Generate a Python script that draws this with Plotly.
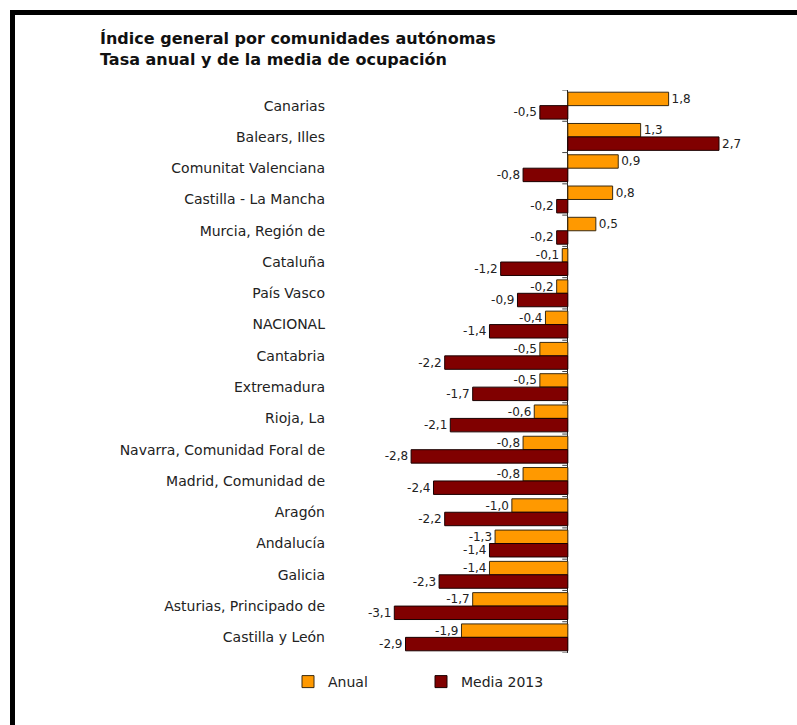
import plotly.graph_objects as go

categories = ["Canarias", "Balears, Illes", "Comunitat Valenciana", "Castilla - La Mancha",
              "Murcia, Región de", "Cataluña", "País Vasco", "NACIONAL", "Cantabria",
              "Extremadura", "Rioja, La", "Navarra, Comunidad Foral de", "Madrid, Comunidad de",
              "Aragón", "Andalucía", "Galicia", "Asturias, Principado de", "Castilla y León"]
anual = [1.8, 1.3, 0.9, 0.8, 0.5, -0.1, -0.2, -0.4, -0.5, -0.5, -0.6, -0.8, -0.8, -1.0, -1.3, -1.4, -1.7, -1.9]
media = [-0.5, 2.7, -0.8, -0.2, -0.2, -1.2, -0.9, -1.4, -2.2, -1.7, -2.1, -2.8, -2.4, -2.2, -1.4, -2.3, -3.1, -2.9]

W, H = 797, 725
ML, MR, MT, MB = 340, 50, 90, 72
XR = [-4.07, 3.2]
pw, ph = W - ML - MR, H - MT - MB

FONT = "DejaVu Sans, Liberation Sans, Arial, sans-serif"
TXT = "#222222"

fig = go.Figure()
fig.add_trace(go.Bar(y=categories, x=anual, orientation="h", name="Anual",
                     marker=dict(color="#FF9900", line=dict(color="#3a2a10", width=1)),
                     text=anual, texttemplate="%{x:.1f}", textposition="outside", constraintext="none",
                     textfont=dict(size=12, color=TXT, family=FONT), cliponaxis=False))
fig.add_trace(go.Bar(y=categories, x=media, orientation="h", name="Media 2013",
                     marker=dict(color="#800000", line=dict(color="#1a0000", width=1)),
                     text=media, texttemplate="%{x:.1f}", textposition="outside", constraintext="none",
                     textfont=dict(size=12, color=TXT, family=FONT), cliponaxis=False))

shapes = []
# small tick marks on the zero axis at category boundaries
for i in range(len(categories) + 1):
    shapes.append(dict(type="line", xref="x", yref="y", x0=-0.1, x1=0, y0=i - 0.5, y1=i - 0.5,
                       line=dict(color="#444444", width=1)))

def px_to_paper_x(px):
    return (px - ML) / pw

def px_to_paper_y(py):
    return (H - MB - py) / ph

# outer frame (top and left)
shapes.append(dict(type="line", xref="paper", yref="paper",
                   x0=px_to_paper_x(10), x1=px_to_paper_x(800), y0=px_to_paper_y(12.5), y1=px_to_paper_y(12.5),
                   line=dict(color="black", width=5)))
shapes.append(dict(type="line", xref="paper", yref="paper",
                   x0=px_to_paper_x(12.5), x1=px_to_paper_x(12.5), y0=px_to_paper_y(10), y1=px_to_paper_y(730),
                   line=dict(color="black", width=5)))

fig.update_layout(
    width=W, height=H,
    margin=dict(l=ML, r=MR, t=MT, b=MB),
    paper_bgcolor="white", plot_bgcolor="white",
    separators=",.",
    barmode="group", bargap=0.14, bargroupgap=0,
    font=dict(family=FONT, color=TXT, size=14),
    title=dict(text="<b>Índice general por comunidades autónomas</b><br><b>Tasa anual y de la media de ocupación</b>",
               xref="container", yref="container", x=100 / W, y=1 - 44 / H,
               xanchor="left", yanchor="top", font=dict(size=16, color="#111111", family=FONT)),
    xaxis=dict(range=XR, showgrid=False, showticklabels=False, ticks="", zeroline=True,
               zerolinecolor="#222222", zerolinewidth=1, showline=False, fixedrange=True),
    yaxis=dict(autorange=False, range=[len(categories) - 0.5, -0.5], showgrid=False, ticks="",
               showline=False, ticklabelstandoff=14, tickfont=dict(size=14, color=TXT, family=FONT)),
    legend=dict(orientation="h", x=px_to_paper_x(288), xanchor="left", y=px_to_paper_y(682), yanchor="middle",
                font=dict(size=14, color=TXT, family=FONT), itemwidth=30, traceorder="normal",
                entrywidth=88),
    shapes=shapes,
)

fig.write_html("out.html")
